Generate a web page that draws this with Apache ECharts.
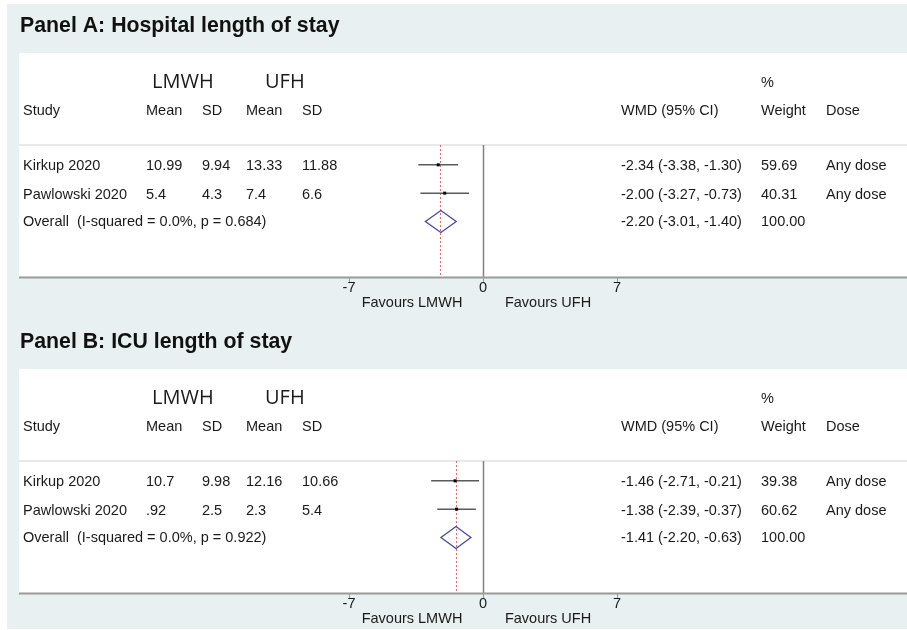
<!DOCTYPE html>
<html>
<head>
<meta charset="utf-8">
<script src="https://cdn.jsdelivr.net/npm/echarts@6/dist/echarts.min.js"></script>
<style>
  html, body { margin: 0; padding: 0; background: #ffffff; }
  #chart { width: 907px; height: 630px; }
</style>
</head>
<body>
<div id="chart"></div>
<script>
// ---- data ----
const panelTitles = ['Panel A: Hospital length of stay', 'Panel B: ICU length of stay'];
const groupLabels = ['LMWH', 'UFH'];
const headerCols = ['Study', 'Mean', 'SD', 'Mean', 'SD'];
const rightHeaders = ['WMD (95% CI)', '%', 'Weight', 'Dose'];
const studies = ['Kirkup 2020', 'Pawlowski 2020'];
const doses = ['Any dose', 'Any dose'];
const xTicks = [-7, 0, 7];
const favourLabels = ['Favours LMWH', 'Favours UFH'];

// Panel A: hospital length of stay
const lmwhMeanA = ['10.99', '5.4'];
const lmwhSdA = ['9.94', '4.3'];
const ufhMeanA = ['13.33', '7.4'];
const ufhSdA = ['11.88', '6.6'];
const wmdA = [-2.34, -2.00];
const lowA = [-3.38, -3.27];
const highA = [-1.30, -0.73];
const weightA = ['59.69', '40.31'];
const overallA = [-2.20, -3.01, -1.40];
const overallLabelA = 'Overall  (I-squared = 0.0%, p = 0.684)';

// Panel B: ICU length of stay
const lmwhMeanB = ['10.7', '.92'];
const lmwhSdB = ['9.98', '2.5'];
const ufhMeanB = ['12.16', '2.3'];
const ufhSdB = ['10.66', '5.4'];
const wmdB = [-1.46, -1.38];
const lowB = [-2.71, -2.39];
const highB = [-0.21, -0.37];
const weightB = ['39.38', '60.62'];
const overallB = [-1.41, -2.20, -0.63];
const overallLabelB = 'Overall  (I-squared = 0.0%, p = 0.922)';

const overallWeight = '100.00';
const rowPos = [0.7, 1.7, 2.7];

// ---- layout & style ----
const FONT = "'Liberation Sans', Arial, Helvetica, sans-serif";
const TXT = '#1a1a1a';
const PANEL_OFFSET = 316;
const panels = [
  { title: panelTitles[0], lm: lmwhMeanA, ls: lmwhSdA, um: ufhMeanA, us: ufhSdA,
    est: wmdA, lo: lowA, hi: highA, w: weightA, ov: overallA, ovLabel: overallLabelA },
  { title: panelTitles[1], lm: lmwhMeanB, ls: lmwhSdB, um: ufhMeanB, us: ufhSdB,
    est: wmdB, lo: lowB, hi: highB, w: weightB, ov: overallB, ovLabel: overallLabelB }
];

const fmt = v => v.toFixed(2);
const ciText = (e, l, h) => `${fmt(e)} (${fmt(l)}, ${fmt(h)})`;
const snap = v => Math.round(v - 0.5) + 0.5;

const chart = echarts.init(document.getElementById('chart'), null, { renderer: 'canvas' });

const grids = [], xAxes = [], yAxes = [], series = [];
panels.forEach((p, i) => {
  const off = PANEL_OFFSET * i;
  grids.push({ left: 349, width: 268, top: 145 + off, height: 132 });
  xAxes.push({
    type: 'value', gridIndex: i, position: 'bottom', min: xTicks[0], max: xTicks[2], interval: xTicks[2],
    axisLine: { show: false, onZero: false },
    axisTick: { show: true, length: 5, lineStyle: { color: '#9a9a9a', width: 1 } },
    axisLabel: { fontSize: 14.5, color: TXT, fontFamily: FONT, margin: 3 },
    splitLine: { show: false }
  });
  yAxes.push({ type: 'value', gridIndex: i, min: 0, max: 4.66, inverse: true, show: false });

  // reference lines: no effect (solid grey) and pooled estimate (dotted red)
  series.push({
    type: 'custom', xAxisIndex: i, yAxisIndex: i, silent: true, z: 1,
    data: [[0, 0], [p.ov[0], 1]],
    renderItem: (params, api) => {
      const cs = params.coordSys;
      const x = snap(api.coord([api.value(0), 0])[0]);
      const pooled = api.value(1) === 1;
      return {
        type: 'line',
        shape: { x1: x, y1: cs.y, x2: x, y2: cs.y + cs.height },
        style: pooled
          ? { stroke: '#e06a6a', lineWidth: 1, lineDash: [2, 2] }
          : { stroke: '#808080', lineWidth: 1.5 }
      };
    }
  });

  // study confidence intervals with point estimates
  series.push({
    type: 'custom', xAxisIndex: i, yAxisIndex: i, silent: true, z: 3,
    data: p.est.map((e, k) => [p.lo[k], p.hi[k], e, rowPos[k]]),
    renderItem: (params, api) => {
      const a = api.coord([api.value(0), api.value(3)]);
      const b = api.coord([api.value(1), api.value(3)]);
      const c = api.coord([api.value(2), api.value(3)]);
      return {
        type: 'group',
        children: [
          { type: 'line', shape: { x1: a[0], y1: a[1], x2: b[0], y2: b[1] },
            style: { stroke: '#5a5a5a', lineWidth: 1.5 } },
          { type: 'rect', shape: { x: c[0] - 1.5, y: c[1] - 1.5, width: 3, height: 3 },
            style: { fill: '#000000' } }
        ]
      };
    }
  });

  // pooled estimate diamond
  series.push({
    type: 'custom', xAxisIndex: i, yAxisIndex: i, silent: true, z: 2,
    data: [[p.ov[1], p.ov[2], p.ov[0], rowPos[2]]],
    renderItem: (params, api) => {
      const l = api.coord([api.value(0), api.value(3)]);
      const h = api.coord([api.value(1), api.value(3)]);
      const c = api.coord([api.value(2), api.value(3)]);
      const hh = 11;
      return {
        type: 'polygon',
        shape: { points: [[l[0], l[1]], [c[0], c[1] - hh], [h[0], h[1]], [c[0], c[1] + hh]] },
        style: { fill: 'none', stroke: '#4a4a9c', lineWidth: 1.3 }
      };
    }
  });
});

chart.setOption({
  animation: false,
  backgroundColor: '#ffffff',
  grid: grids, xAxis: xAxes, yAxis: yAxes, series: series
});

// ---- table text and frames ----
function txt(x, y, s, opt) {
  return {
    type: 'text', x: x, y: y, silent: true,
    style: Object.assign({ text: s, fill: TXT, font: `14.5px ${FONT}`,
      textAlign: 'left', textVerticalAlign: 'middle' }, opt || {})
  };
}

const graphics = [];
graphics.push({ type: 'rect', z: -10, silent: true,
  shape: { x: 7, y: 4, width: 900, height: 625 }, style: { fill: '#e8f0f2' } });

panels.forEach((p, i) => {
  const off = PANEL_OFFSET * i;
  const rowY = rowPos.map(r => chart.convertToPixel({ gridIndex: i }, [0, r])[1]);
  graphics.push({ type: 'rect', z: -9, silent: true,
    shape: { x: 19, y: 53 + off, width: 888, height: 224 }, style: { fill: '#ffffff' } });
  graphics.push({ type: 'line', z: -8, silent: true,
    shape: { x1: 19, y1: 145 + off, x2: 907, y2: 145 + off },
    style: { stroke: '#e2e2e2', lineWidth: 1.5 } });
  graphics.push({ type: 'line', z: 5, silent: true,
    shape: { x1: 19, y1: 277.5 + off, x2: 907, y2: 277.5 + off },
    style: { stroke: '#9a9a9a', lineWidth: 2 } });

  graphics.push(txt(20, 26 + off, p.title, { font: `bold 21.3px ${FONT}`, fill: '#111111' }));
  graphics.push(txt(152, 82 + off, groupLabels[0], { font: `20px 'Open Sans', sans-serif` }));
  graphics.push(txt(265, 82 + off, groupLabels[1], { font: `20px 'Open Sans', sans-serif` }));
  const colX = [23, 146, 202, 246, 302];
  headerCols.forEach((h, k) => graphics.push(txt(colX[k], 111 + off, h)));
  graphics.push(txt(621, 111 + off, rightHeaders[0]));
  graphics.push(txt(761, 83 + off, rightHeaders[1]));
  graphics.push(txt(761, 111 + off, rightHeaders[2]));
  graphics.push(txt(826, 111 + off, rightHeaders[3]));

  studies.forEach((s, k) => {
    const y = rowY[k] + 1.5;
    graphics.push(txt(colX[0], y, s));
    graphics.push(txt(colX[1], y, p.lm[k]));
    graphics.push(txt(colX[2], y, p.ls[k]));
    graphics.push(txt(colX[3], y, p.um[k]));
    graphics.push(txt(colX[4], y, p.us[k]));
    graphics.push(txt(621, y, ciText(p.est[k], p.lo[k], p.hi[k])));
    graphics.push(txt(761, y, p.w[k]));
    graphics.push(txt(826, y, doses[k]));
  });
  const yo = rowY[2] + 1;
  graphics.push(txt(colX[0], yo, p.ovLabel));
  graphics.push(txt(621, yo, ciText(p.ov[0], p.ov[1], p.ov[2])));
  graphics.push(txt(761, yo, overallWeight));

  const fl = chart.convertToPixel({ gridIndex: i }, [-3.5, 0])[0];
  const fr = chart.convertToPixel({ gridIndex: i }, [3.5, 0])[0];
  graphics.push(txt(fl - 4, 303 + off, favourLabels[0], { textAlign: 'center' }));
  graphics.push(txt(fr - 2, 303 + off, favourLabels[1], { textAlign: 'center' }));
});

chart.setOption({ graphic: graphics });
</script>
</body>
</html>
